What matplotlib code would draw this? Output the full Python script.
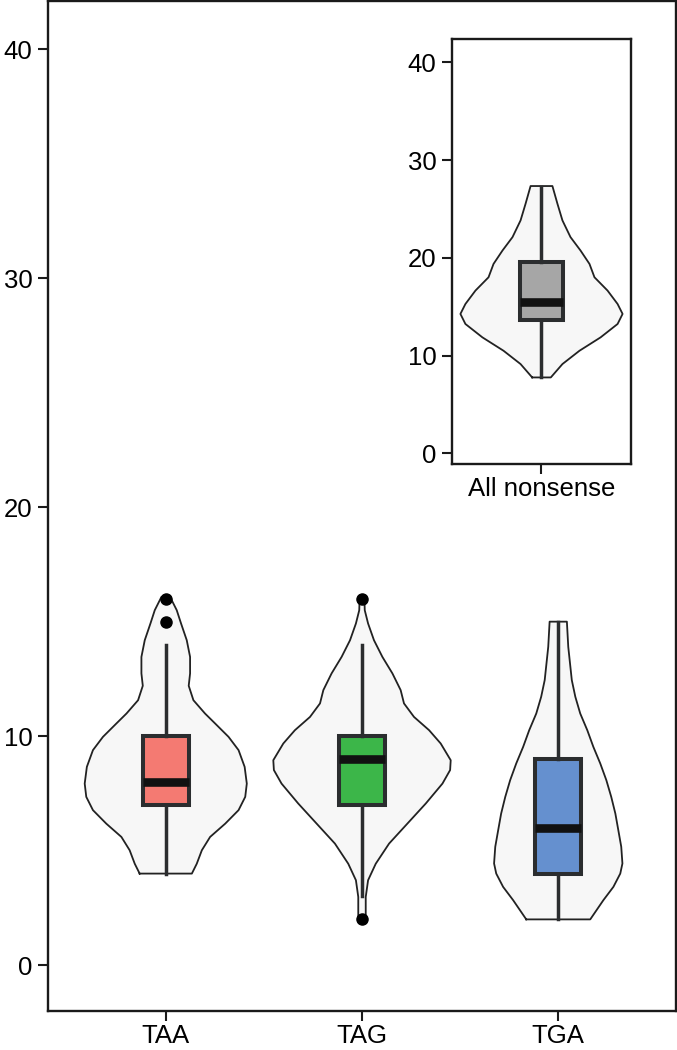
import matplotlib
matplotlib.use("Agg")
import matplotlib.pyplot as plt
import numpy as np

plt.rcParams["font.family"] = ["Liberation Sans", "DejaVu Sans"]

# --- main panel: per-codon distributions ---
codons = ["TAA", "TAG", "TGA"]
box_colors = ["#f47a72", "#3cb649", "#6590cf"]

# violin outlines: y values and half-widths (x data units)
taa_y = [4.0, 4.43, 5.02, 5.60, 6.18, 6.77, 7.35, 7.93, 8.66, 9.39, 9.97, 10.55,
         10.99, 11.57, 12.20, 12.74, 13.46, 14.19, 14.92, 15.50, 16.08]
taa_w = [0.133, 0.158, 0.184, 0.226, 0.303, 0.371, 0.405, 0.413, 0.402, 0.371,
         0.320, 0.252, 0.200, 0.141, 0.117, 0.124, 0.124, 0.107, 0.078, 0.056, 0.022]
tag_y = [1.97, 2.98, 3.71, 4.43, 5.31, 6.18, 7.06, 7.93, 8.52, 8.95, 9.68, 10.26,
         10.84, 11.43, 12.01, 12.74, 13.46, 14.19, 14.92, 15.50, 16.08]
tag_w = [0.019, 0.019, 0.031, 0.070, 0.138, 0.231, 0.325, 0.410, 0.449, 0.452,
         0.401, 0.342, 0.265, 0.214, 0.197, 0.155, 0.104, 0.061, 0.031, 0.014, 0.012]
tga_y = [2.0, 2.84, 3.42, 4.00, 4.44, 5.17, 5.90, 6.62, 7.35, 8.08, 8.81, 9.53,
         10.26, 10.99, 11.72, 12.45, 13.90, 15.0]
tga_w = [0.163, 0.230, 0.281, 0.316, 0.327, 0.321, 0.306, 0.291, 0.270, 0.245,
         0.214, 0.179, 0.148, 0.112, 0.087, 0.069, 0.051, 0.044]

# box summaries: whislo, q1, med, q3, whishi, outliers
whislo = [4, 3, 2]
q1 = [7, 7, 4]
med = [8, 9, 6]
q3 = [10, 10, 9]
whishi = [14, 14, 15]
fliers = [[15, 16], [2, 16], []]

# --- inset: all nonsense pooled ---
all_y = [7.76, 9.13, 10.49, 11.86, 13.23, 14.26, 15.28, 16.65, 18.01, 19.38,
         20.75, 22.12, 23.83, 25.54, 27.35]
all_w = [0.052, 0.117, 0.212, 0.330, 0.425, 0.453, 0.425, 0.369, 0.296, 0.268,
         0.218, 0.162, 0.117, 0.089, 0.061]
all_stats = dict(whislo=7.76, q1=13.6, med=15.5, q3=19.6, whishi=27.3, fliers=[])

VIOLIN_FILL = "#f7f7f7"
EDGE = "#2b2d2f"


def draw_violin(ax, pos, ys, ws):
    ys = np.asarray(ys)
    ws = np.asarray(ws)
    ax.fill_betweenx(ys, pos - ws, pos + ws, facecolor=VIOLIN_FILL,
                     edgecolor="none", zorder=1)
    # outline incl. flat ends
    xs = np.concatenate([pos - ws, (pos + ws)[::-1], [pos - ws[0]]])
    yy = np.concatenate([ys, ys[::-1], [ys[0]]])
    ax.plot(xs, yy, color="#222222", lw=1.3, zorder=2, solid_joinstyle="round")


def draw_box(ax, pos, stats, color, width):
    ax.bxp([stats], positions=[pos], widths=width, patch_artist=True,
           showcaps=False, manage_ticks=False,
           boxprops=dict(facecolor=color, edgecolor=EDGE, linewidth=2.9),
           whiskerprops=dict(color=EDGE, linewidth=2.5),
           medianprops=dict(color="#111111", linewidth=6.2, solid_capstyle="butt"),
           flierprops=dict(marker="o", markerfacecolor="black",
                           markeredgecolor="black", markersize=8),
           zorder=3)


def style_axes(ax):
    for s in ax.spines.values():
        s.set_linewidth(1.7)
        s.set_color("#1a1a1a")
    ax.tick_params(axis="both", length=7.2, width=1.5, labelsize=18.5, pad=4,
                   color="#1a1a1a")
    ax.tick_params(axis="x", pad=2)


fig = plt.figure(figsize=(6.77, 10.5), dpi=100)
ax = fig.add_axes([48 / 677, 39 / 1050, 628 / 677, 1010 / 1050])

for i, (ys, ws) in enumerate([(taa_y, taa_w), (tag_y, tag_w), (tga_y, tga_w)]):
    draw_violin(ax, i, ys, ws)
    stats = dict(whislo=whislo[i], q1=q1[i], med=med[i], q3=q3[i],
                 whishi=whishi[i], fliers=fliers[i])
    draw_box(ax, i, stats, box_colors[i], 0.235)

ax.set_xlim(-0.6, 2.6)
ax.set_ylim(-2.0, 42.1)
ax.set_xticks(range(len(codons)))
ax.set_xticklabels(codons)
ax.set_yticks([0, 10, 20, 30, 40])
style_axes(ax)

# inset
axi = fig.add_axes([452 / 677, 586 / 1050, 179 / 677, 425 / 1050])
draw_violin(axi, 0, all_y, all_w)
draw_box(axi, 0, all_stats, "#a6a6a6", 0.24)
axi.set_xlim(-0.5, 0.5)
axi.set_ylim(-1.1, 42.4)
axi.set_xticks([0])
axi.set_xticklabels(["All nonsense"])
axi.set_yticks([0, 10, 20, 30, 40])
style_axes(axi)

fig.savefig("out.png", dpi=100)
